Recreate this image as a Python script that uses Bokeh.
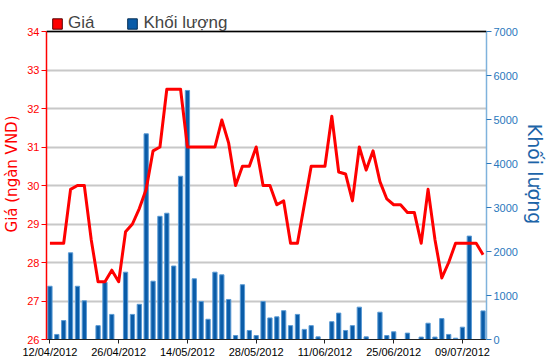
from bokeh.plotting import figure
from bokeh.models import Range1d, LinearAxis, FixedTicker, Legend, LegendItem, Span
from bokeh.embed import file_html
from bokeh.resources import INLINE

# ---- data ----
tick_index = [0, 10, 20, 30, 40, 50, 60]
tick_labels = ["12/04/2012", "26/04/2012", "14/05/2012", "28/05/2012",
               "11/06/2012", "25/06/2012", "09/07/2012"]

price = [28.5, 28.5, 28.5, 29.9, 30.0, 30.0, 28.6, 27.5, 27.5, 27.8,
         27.5, 28.8, 29.0, 29.4, 29.9, 30.9, 31.0, 32.5, 32.5, 32.5,
         31.0, 31.0, 31.0, 31.0, 31.0, 31.7, 31.1, 30.0, 30.5, 30.5,
         31.0, 30.0, 30.0, 29.5, 29.6, 28.5, 28.5, 29.5, 30.5, 30.5,
         30.5, 31.8, 30.35, 30.3, 29.6, 31.0, 30.4, 30.9, 30.1, 29.65,
         29.5, 29.5, 29.3, 29.3, 28.5, 29.9, 28.6, 27.6, 28.0, 28.5,
         28.5, 28.5, 28.5, 28.2]

volume = [1210, 115, 430, 1970, 1210, 880, 0, 315, 1300, 570,
          0, 1530, 570, 800, 4675, 1325, 2800, 2870, 1670, 3710,
          5660, 1380, 865, 460, 1530, 1470, 910, 90, 1245, 205,
          90, 865, 490, 515, 655, 315, 570, 230, 315, 60,
          0, 405, 600, 205, 315, 735, 60, 0, 620, 90,
          175, 0, 145, 0, 55, 370, 55, 475, 115, 30,
          280, 2350, 0, 650]

x = list(range(len(price)))

price_ticks = [26, 27, 28, 29, 30, 31, 32, 33, 34]
vol_ticks = [0, 1000, 2000, 3000, 4000, 5000, 6000, 7000]

RED = "#ff0000"
BLUE = "#0a5ca8"
FONT = "Liberation Sans"
NAN = float("nan")

# plot area: price 26..34 occupies 308 px; extra 23 px headroom for the legend
FRAME_H = 331
P_LO, P_HI = 26, 34
head = (FRAME_H - 308) / 308 * (P_HI - P_LO)
V_HI = 7000

p = figure(frame_width=440, frame_height=FRAME_H,
           x_range=Range1d(-0.5, 63.5), y_range=Range1d(P_LO, P_HI + head),
           output_backend="svg", toolbar_location=None,
           min_border_left=38, min_border_right=56,
           min_border_top=8, min_border_bottom=17)
p.extra_y_ranges = {"vol": Range1d(0, V_HI * (P_HI + head - P_LO) / (P_HI - P_LO))}
p.background_fill_color = "white"
p.border_fill_color = "white"
p.outline_line_color = None

# grid
pt = FixedTicker(ticks=price_ticks)
p.xgrid.visible = False
p.ygrid.ticker = pt
p.ygrid.grid_line_color = "#c8c8c8"
p.ygrid.grid_line_width = 2

# bars
p.vbar(x=x, top=volume, width=0.62, y_range_name="vol",
       fill_color=BLUE, line_color="#5a9ad4", line_width=1)
# price line
p.line(x, price, line_color=RED, line_width=3, line_join="round")

# top border of the chart area
p.add_layout(Span(location=P_HI, dimension="width", line_color="black", line_width=1.5))

# left axis
ya = p.yaxis[0]
ya.ticker = pt
ya.bounds = (P_LO, P_HI)
ya.axis_line_color = RED
ya.axis_line_width = 1.5
ya.major_tick_line_color = RED
ya.major_tick_out = 5
ya.major_tick_in = 0
ya.minor_tick_line_color = None
ya.major_label_text_color = RED
ya.major_label_text_font = FONT
ya.major_label_text_font_size = "11px"
ya.major_label_standoff = 2
ya.axis_label = "Giá (ngàn VND)"
ya.axis_label_text_color = RED
ya.axis_label_text_font = "DejaVu Sans"
ya.axis_label_text_font_size = "15px"
ya.axis_label_text_font_style = "normal"
ya.axis_label_standoff = 3

# right axis
ra = LinearAxis(y_range_name="vol", ticker=FixedTicker(ticks=vol_ticks), bounds=(0, V_HI))
ra.axis_line_color = "#7fb2dc"
ra.axis_line_width = 1.5
ra.major_tick_line_color = "#2a78bd"
ra.major_tick_out = 5
ra.major_tick_in = 0
ra.minor_tick_line_color = None
ra.major_label_text_color = "#2a78bd"
ra.major_label_text_font = FONT
ra.major_label_text_font_size = "11px"
ra.major_label_standoff = 2
ra.axis_label = "Khối lượng"
ra.axis_label_text_color = "#1c64a8"
ra.axis_label_text_font = "DejaVu Sans"
ra.axis_label_text_font_size = "19px"
ra.axis_label_text_font_style = "normal"
ra.axis_label_standoff = 3
p.add_layout(ra, "right")

# x axis
xa = p.xaxis[0]
xa.ticker = FixedTicker(ticks=tick_index)
xa.major_label_overrides = {i: s for i, s in zip(tick_index, tick_labels)}
xa.axis_line_color = "#222222"
xa.major_tick_line_color = "#222222"
xa.major_tick_out = 4
xa.major_tick_in = 0
xa.minor_tick_line_color = None
xa.major_label_text_font = FONT
xa.major_label_text_font_size = "11px"
xa.major_label_text_color = "black"
xa.major_label_standoff = 2

# legend swatches (renderers with one undrawable NaN row, used only for the legend)
lp = p.quad(left=[NAN], right=[NAN], top=[NAN], bottom=[NAN],
            fill_color=RED, line_color="#550000", line_width=1)
lv = p.quad(left=[NAN], right=[NAN], top=[NAN], bottom=[NAN],
            fill_color=BLUE, line_color="#062f55", line_width=1)
legend = Legend(items=[LegendItem(label="Giá", renderers=[lp]),
                       LegendItem(label="Khối lượng", renderers=[lv])],
                orientation="horizontal", location="top_left",
                padding=0, margin=5, spacing=32,
                glyph_width=12, glyph_height=13, label_height=13,
                label_standoff=5, label_text_font=FONT,
                label_text_font_size="17px",
                border_line_color=None, background_fill_alpha=0)
p.add_layout(legend)

open("out.html", "w").write(file_html(p, INLINE))
